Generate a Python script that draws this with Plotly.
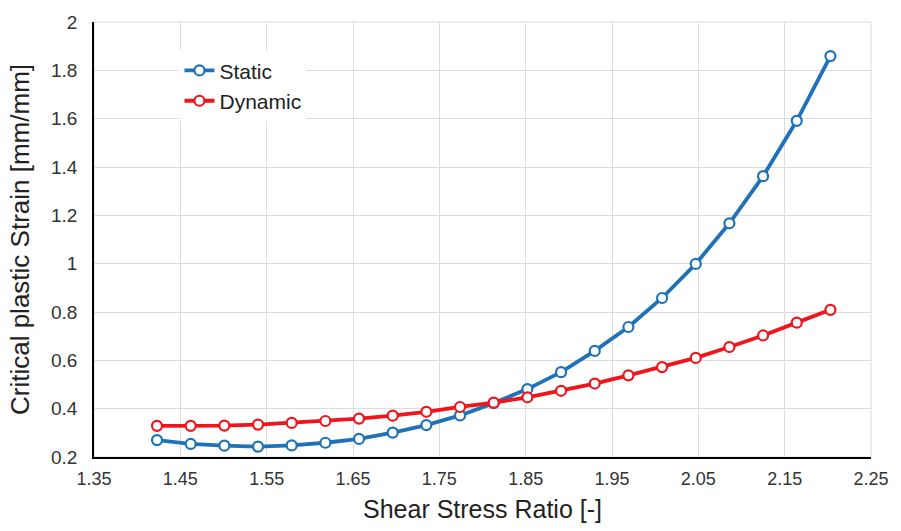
import plotly.graph_objects as go

shear_ratio = [1.423, 1.462, 1.501, 1.540, 1.579, 1.618, 1.657, 1.696, 1.735, 1.774,
               1.813, 1.852, 1.891, 1.930, 1.969, 2.008, 2.047, 2.086, 2.125, 2.164, 2.203]
static_strain = [0.270, 0.254, 0.247, 0.243, 0.248, 0.259, 0.275, 0.301, 0.332, 0.372,
                 0.423, 0.481, 0.551, 0.639, 0.738, 0.858, 0.999, 1.167, 1.362, 1.591, 1.859]
dynamic_strain = [0.329, 0.329, 0.330, 0.334, 0.341, 0.349, 0.359, 0.371, 0.387, 0.407,
                  0.425, 0.447, 0.474, 0.504, 0.538, 0.572, 0.610, 0.655, 0.703, 0.756, 0.809]

series = [("Static", static_strain, "#1F72B8"), ("Dynamic", dynamic_strain, "#F0141B")]

fig = go.Figure()
for name, vals, col in series:
    fig.add_trace(go.Scatter(
        x=shear_ratio, y=vals, name=name, mode="lines+markers",
        line=dict(color=col, width=3.8),
        marker=dict(symbol="circle", size=10, color="white", line=dict(color=col, width=2.2)),
    ))

font = "Liberation Sans, Arial, sans-serif"
fig.update_layout(
    width=901, height=531,
    margin=dict(l=94, r=24, t=12, b=73),
    paper_bgcolor="white", plot_bgcolor="white",
    font=dict(family=font, color="#222222"),
    showlegend=True,
    legend=dict(x=0.11, y=0.935, xanchor="left", yanchor="top",
                bgcolor="white", font=dict(size=21, color="#222222"),
                itemwidth=30, tracegroupgap=0),
    xaxis=dict(range=[1.35, 2.25], tick0=1.35, dtick=0.1, showgrid=True,
               gridcolor="#DCDCDC", gridwidth=1, zeroline=False,
               showline=True, linecolor="#000000", linewidth=1.5, mirror=False,
               ticks="outside", ticklen=5, tickcolor="white",
               tickfont=dict(size=18, color="#333333"),
               title=dict(text="Shear Stress Ratio [-]", font=dict(size=25, color="#222222"), standoff=12)),
    yaxis=dict(range=[0.2, 2.0], tick0=0.2, dtick=0.2, showgrid=True,
               gridcolor="#DCDCDC", gridwidth=1, zeroline=False,
               showline=True, linecolor="#000000", linewidth=1.5,
               ticks="outside", ticklen=11, tickcolor="white",
               tickfont=dict(size=19, color="#333333"),
               title=dict(text="Critical plastic Strain [mm/mm]", font=dict(size=26, color="#222222"), standoff=14)),
)
# light border on top/right like the reference grid frame
fig.add_shape(type="rect", xref="paper", yref="paper", x0=0, y0=0, x1=1, y1=1,
              line=dict(color="#DCDCDC", width=1), layer="below")

fig.write_html("out.html")
